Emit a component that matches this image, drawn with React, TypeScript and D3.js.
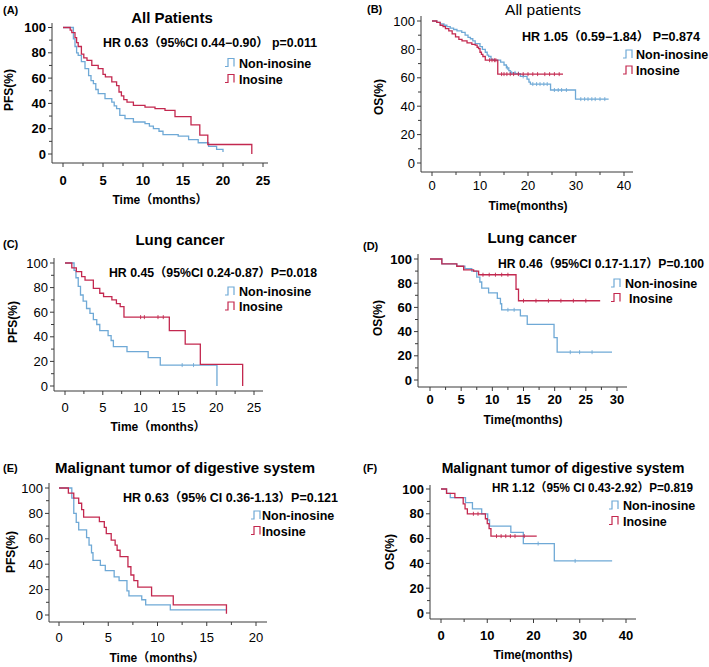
import React from 'react';
import * as d3 from 'd3';

type P = [number, number];

// ---- Data (time in months, survival %) ----
const pfsAllNon: P[] = [[0,100],[1.3,91],[1.5,85],[1.7,80],[1.9,78],[2.3,73],[2.75,67.5],[3.2,62],[3.5,58],[3.8,55.6],[4.1,51],[4.4,47.7],[5.25,43.7],[6.1,41],[6.4,38],[6.7,35.8],[7.1,30.6],[7.75,28],[8.8,25.3],[10.25,24],[10.8,22],[11.3,20],[12.0,18],[12.5,15.3],[14.4,14.2],[15.7,11.3],[16.9,8.9],[18.2,6],[19.2,3.7],[20,1.6]];
const pfsAllIns: P[] = [[0,100],[0.9,98],[1.1,96],[1.5,92],[1.7,88],[1.9,85],[2.3,79],[2.6,76],[3.0,74],[3.6,70],[4.4,67.5],[5.0,63],[5.3,61],[6.1,57],[6.7,54],[7.0,49],[7.3,46],[7.6,43],[8.0,41],[8.8,38.5],[10.25,37],[11.5,35.8],[12.75,34.5],[14.0,29.5],[16.0,23],[17.1,15],[18.1,7.5],[23.6,0]];

const osAllNon: P[] = [[0,100],[1.0,99],[1.7,98],[2.5,97],[3.1,96],[3.8,95],[4.5,94],[5.2,93],[6.2,92],[6.9,90],[7.5,88.5],[8,87.5],[8.5,86],[9,84],[10,82],[10.5,80],[11.1,78],[11.5,76],[11.8,75],[12.3,73],[12.8,72.4],[14.3,71],[15.0,69],[15.5,67],[16,65],[16.3,63.5],[17.4,63],[18.4,61],[19.8,59],[20.2,57],[20.5,55.6],[24.7,51.4],[29.9,45],[36.8,45]];
const osAllIns: P[] = [[0,100],[1.0,99],[1.7,97],[2.3,96],[2.8,94.6],[3.5,93],[4.2,91],[4.9,88.8],[5.6,87],[6.25,86],[7.3,84.6],[8.3,83.6],[9.0,83],[9.4,81.5],[9.7,80.6],[10.0,78],[10.3,76.5],[10.6,75],[11.1,72.4],[13.7,62.6],[27.3,62.6]];
const osAllNonCens = [15.7,16.6,17.3,18,19,21,21.8,22.5,23.3,24,25.5,26.3,27,28,31,31.8,32.5,33.3,34,35,36];
const osAllInsCens = [12,12.5,13,13.3,14.5,15,15.6,16.3,17,18,19,20,21,22,23.5,24.5,25.5,26.5];

const pfsLungNon: P[] = [[0,100],[1.2,94],[1.45,88],[1.75,81],[2.05,74],[2.4,69],[2.85,63],[3.3,59],[3.75,54],[4.2,50],[4.6,45],[5.7,41],[6.1,37],[6.4,32],[8.2,28],[11,23],[12.6,17],[20.1,0]];
const pfsLungIns: P[] = [[0,100],[0.9,96],[1.5,93],[2.2,89],[2.65,86],[3.75,79.4],[4.6,75.4],[5.1,72.6],[6.2,70],[6.8,67],[7.3,64.5],[7.8,56],[13.8,45],[15.9,34],[17.9,17.6],[23.5,0]];
const pfsLungNonCens = [15.5,17];
const pfsLungInsCens = [10,10.5,12.3,13];

const osLungNon: P[] = [[0,100],[1.9,96],[4.3,94],[5.6,92],[6.7,90],[7.5,85],[8.0,81],[8.3,76],[9.4,72],[10.8,67.5],[11.3,63],[11.5,58],[14.5,53],[15.6,46],[19.9,35],[20.4,23],[29.2,23]];
const osLungIns: P[] = [[0,100],[1.9,96],[4.3,94],[5.4,91],[7.0,90],[7.8,87],[13.8,75],[14.2,65.5],[27.3,65.5]];
const osLungNonCens = [12.5,13.5,22.5,24,26];
const osLungInsCens = [8.5,9.5,10.5,11.5,12.5,15,17,19,21,23,25];

const pfsDigNon: P[] = [[0,100],[1.3,92],[1.5,80],[1.75,73],[2.0,67],[2.8,61],[3.05,55],[3.3,49],[3.45,43],[4.2,39],[4.7,35],[5.6,30],[6.1,27],[6.9,19],[7.1,15],[8.4,12],[8.8,8],[11.3,4],[17,4]];
const pfsDigIns: P[] = [[0,100],[0.95,96],[1.5,92],[2.0,88],[2.3,83],[2.5,77],[4.1,73.5],[4.6,69],[4.8,64],[5.3,59],[5.7,55],[5.9,51],[6.2,46],[7.0,38],[7.3,31.5],[7.6,27],[8.0,22],[9.4,15],[11.6,8],[17,1]];

const osDigNon: P[] = [[0,100],[1.2,96.5],[2.0,93],[5.3,89],[6.8,84],[8.8,80],[10.1,75],[10.5,70],[15.1,65],[17.8,56],[24.5,42],[37,42]];
const osDigIns: P[] = [[0,100],[1.2,96.5],[3.0,93],[4.8,88],[5.2,84],[5.7,80],[9.6,76],[10.0,72],[10.4,68],[10.8,62],[20.7,62]];
const osDigNonCens = [21,29];
const osDigInsCens = [7,8,12,13,14,15,16,18];

const yTicks = [0, 20, 40, 60, 80, 100];
const yMinor = [10, 30, 50, 70, 90];
const legendNames = ['Non-inosine', 'Inosine'];

const BLUE = '#6fa9d6';
const RED = '#c3284f';
const FONT = "'Liberation Sans', Arial, 'Noto Sans CJK SC', sans-serif";

interface Panel {
  label: string; labelX: number; labelY: number;
  title: string; titleX: number; titleY: number; titleSize: number; titleWeight: string;
  hr: string; hrX: number; hrY: number; hrW: number;
  legX: number; legTextX: number; legText2X?: number; legY1: number; legY2: number;
  yLabel: string; yLabelX: number; yLabelY: number;
  xLabel: string; xLabelX: number; xLabelY: number;
  yAxisX: number; xAxisY: number; yTop: number; xRight: number;
  x0: number; xMaxPx: number; xMax: number; xStep: number;
  y100: number; y0: number; tickLabelY: number; tickWeight: string;
  non: P[]; ins: P[]; nonC: number[]; insC: number[];
}

const panels: Panel[] = [
  { label: '(A)', labelX: 3, labelY: 14, title: 'All Patients', titleX: 172, titleY: 22.5, titleSize: 15, titleWeight: 'bold',
    hr: 'HR 0.63（95%CI 0.44−0.90） p=0.011', hrX: 103, hrY: 47, hrW: 214,
    legX: 225, legTextX: 239, legY1: 63, legY2: 79,
    yLabel: 'PFS(%)', yLabelX: 13, yLabelY: 90, xLabel: 'Time（months）', xLabelX: 160, xLabelY: 204,
    yAxisX: 52, xAxisY: 163, yTop: 23, xRight: 268, x0: 63, xMaxPx: 263, xMax: 25, xStep: 5,
    y100: 27.5, y0: 154, tickLabelY: 184.5, tickWeight: 'bold',
    non: pfsAllNon, ins: pfsAllIns, nonC: [], insC: [] },
  { label: '(B)', labelX: 367, labelY: 13, title: 'All patients', titleX: 543, titleY: 14.5, titleSize: 15.5, titleWeight: 'normal',
    hr: 'HR 1.05（0.59−1.84） P=0.874', hrX: 522, hrY: 40.5, hrW: 178,
    legX: 623, legTextX: 636, legY1: 54.5, legY2: 70.5,
    yLabel: 'OS(%)', yLabelX: 383, yLabelY: 97, xLabel: 'Time(months)', xLabelX: 528, xLabelY: 210,
    yAxisX: 421, xAxisY: 172, yTop: 16, xRight: 633, x0: 432, xMaxPx: 624, xMax: 40, xStep: 10,
    y100: 21, y0: 163, tickLabelY: 189.5, tickWeight: 'normal',
    non: osAllNon, ins: osAllIns, nonC: osAllNonCens, insC: osAllInsCens },
  { label: '(C)', labelX: 3, labelY: 248, title: 'Lung cancer', titleX: 180, titleY: 245, titleSize: 15, titleWeight: 'bold',
    hr: 'HR 0.45（95%CI  0.24-0.87）P=0.018', hrX: 109, hrY: 276.5, hrW: 208,
    legX: 225, legTextX: 239, legY1: 291.5, legY2: 306.5,
    yLabel: 'PFS(%)', yLabelX: 17, yLabelY: 322, xLabel: 'Time（months）', xLabelX: 158, xLabelY: 431,
    yAxisX: 54, xAxisY: 391, yTop: 258, xRight: 263, x0: 65, xMaxPx: 254, xMax: 25, xStep: 5,
    y100: 263, y0: 386, tickLabelY: 411.5, tickWeight: 'normal',
    non: pfsLungNon, ins: pfsLungIns, nonC: pfsLungNonCens, insC: pfsLungInsCens },
  { label: '(D)', labelX: 363, labelY: 250, title: 'Lung cancer', titleX: 532, titleY: 243, titleSize: 15, titleWeight: 'bold',
    hr: 'HR 0.46（95%CI 0.17-1.17）P=0.100', hrX: 498, hrY: 267.5, hrW: 206,
    legX: 611, legTextX: 625, legText2X: 629, legY1: 283.5, legY2: 298,
    yLabel: 'OS(%)', yLabelX: 382, yLabelY: 318, xLabel: 'Time(months)', xLabelX: 523, xLabelY: 424,
    yAxisX: 418, xAxisY: 387, yTop: 254, xRight: 627, x0: 430, xMaxPx: 617, xMax: 30, xStep: 5,
    y100: 259, y0: 380, tickLabelY: 403.5, tickWeight: 'bold',
    non: osLungNon, ins: osLungIns, nonC: osLungNonCens, insC: osLungInsCens },
  { label: '(E)', labelX: 3, labelY: 472, title: 'Malignant tumor of digestive system', titleX: 185, titleY: 473, titleSize: 15, titleWeight: 'bold',
    hr: 'HR 0.63（95% CI 0.36-1.13）P=0.121', hrX: 123, hrY: 501.5, hrW: 215,
    legX: 251, legTextX: 262, legY1: 515.5, legY2: 531,
    yLabel: 'PFS(%)', yLabelX: 15, yLabelY: 552, xLabel: 'Time（months）', xLabelX: 157, xLabelY: 662,
    yAxisX: 49, xAxisY: 622, yTop: 483, xRight: 267, x0: 59, xMaxPx: 256, xMax: 20, xStep: 5,
    y100: 488, y0: 615, tickLabelY: 642, tickWeight: 'normal',
    non: pfsDigNon, ins: pfsDigIns, nonC: [], insC: [] },
  { label: '(F)', labelX: 363, labelY: 472, title: 'Malignant tumor of digestive system', titleX: 563, titleY: 472.5, titleSize: 14, titleWeight: 'bold',
    hr: 'HR 1.12（95% CI 0.43-2.92）P=0.819', hrX: 492, hrY: 492, hrW: 201,
    legX: 609, legTextX: 623, legY1: 505.5, legY2: 521,
    yLabel: 'OS(%)', yLabelX: 394, yLabelY: 552, xLabel: 'Time(months)', xLabelX: 533, xLabelY: 659,
    yAxisX: 430, xAxisY: 619, yTop: 485, xRight: 636, x0: 441, xMaxPx: 626, xMax: 40, xStep: 10,
    y100: 489, y0: 613, tickLabelY: 639.5, tickWeight: 'bold',
    non: osDigNon, ins: osDigIns, nonC: osDigNonCens, insC: osDigInsCens },
];

function stepValue(pts: P[], t: number): number {
  let v = pts[0][1];
  for (const p of pts) { if (p[0] <= t) v = p[1]; else break; }
  return v;
}

function KMPanel({ p }: { p: Panel }) {
  const x = d3.scaleLinear().domain([0, p.xMax]).range([p.x0, p.xMaxPx]);
  const y = d3.scaleLinear().domain([0, 100]).range([p.y0, p.y100]);
  const line = d3.line<P>().x(d => x(d[0])).y(d => y(d[1])).curve(d3.curveStepAfter);
  const xMajor = d3.range(0, p.xMax + 0.001, p.xStep);
  const xMinor = d3.range(p.xStep / 2, p.xMax, p.xStep);
  const axisColor = '#3a3a3a';
  const sym = (yy: number) => `M${p.legX},${yy + 3.5}h3v-8h6v8`;
  const series = [
    { pts: p.non, cens: p.nonC, color: BLUE },
    { pts: p.ins, cens: p.insC, color: RED },
  ];
  return (
    <g fontFamily={FONT}>
      <text x={p.labelX} y={p.labelY} fontSize={11} fontWeight="bold">{p.label}</text>
      <text x={p.titleX} y={p.titleY} fontSize={p.titleSize} fontWeight={p.titleWeight} textAnchor="middle">{p.title}</text>
      <text x={p.hrX} y={p.hrY} fontSize={12} fontWeight="bold" textLength={p.hrW} lengthAdjust="spacingAndGlyphs">{p.hr}</text>
      <line x1={p.yAxisX} x2={p.yAxisX} y1={p.yTop} y2={p.xAxisY} stroke={axisColor} strokeWidth={1} />
      <line x1={p.yAxisX} x2={p.xRight} y1={p.xAxisY} y2={p.xAxisY} stroke={axisColor} strokeWidth={1} />
      {yTicks.map(v => (
        <g key={'y' + v}>
          <line x1={p.yAxisX - 4} x2={p.yAxisX} y1={y(v)} y2={y(v)} stroke={axisColor} />
          <text x={p.yAxisX - 6} y={y(v)} dy="0.36em" fontSize={13} fontWeight={p.tickWeight} textAnchor="end">{v}</text>
        </g>
      ))}
      {yMinor.map(v => (
        <line key={'ym' + v} x1={p.yAxisX - 3} x2={p.yAxisX} y1={y(v)} y2={y(v)} stroke={axisColor} />
      ))}
      {xMajor.map(v => (
        <g key={'x' + v}>
          <line x1={x(v)} x2={x(v)} y1={p.xAxisY} y2={p.xAxisY + 4} stroke={axisColor} />
          <text x={x(v)} y={p.tickLabelY} fontSize={13} fontWeight={p.tickWeight} textAnchor="middle">{v}</text>
        </g>
      ))}
      {xMinor.map(v => (
        <line key={'xm' + v} x1={x(v)} x2={x(v)} y1={p.xAxisY} y2={p.xAxisY + 3} stroke={axisColor} />
      ))}
      <text transform={`translate(${p.yLabelX},${p.yLabelY}) rotate(-90)`} fontSize={12} fontWeight="bold" textAnchor="middle">{p.yLabel}</text>
      <text x={p.xLabelX} y={p.xLabelY} fontSize={12} fontWeight="bold" textAnchor="middle">{p.xLabel}</text>
      {series.map((s, i) => (
        <g key={'s' + i}>
          <path d={line(s.pts) || ''} fill="none" stroke={s.color} strokeWidth={1.3} />
          {s.cens.map((t, j) => {
            const cy = y(stepValue(s.pts, t));
            return <line key={j} x1={x(t)} x2={x(t)} y1={cy - 2} y2={cy + 2} stroke={s.color} strokeWidth={0.9} />;
          })}
        </g>
      ))}
      <path d={sym(p.legY1)} fill="none" stroke={BLUE} strokeWidth={1.2} />
      <text x={p.legTextX} y={p.legY1 + 4.5} fontSize={12.5} fontWeight="bold">{legendNames[0]}</text>
      <path d={sym(p.legY2)} fill="none" stroke={RED} strokeWidth={1.2} />
      <text x={p.legText2X ?? p.legTextX} y={p.legY2 + 4.5} fontSize={12.5} fontWeight="bold">{legendNames[1]}</text>
    </g>
  );
}

export default function App() {
  return (
    <svg width={709} height={667} viewBox="0 0 709 667"
      style={{ position: 'absolute', left: 0, top: 0, background: '#fff' }}>
      <rect width={709} height={667} fill="#fff" />
      {panels.map((p, i) => <KMPanel key={i} p={p} />)}
    </svg>
  );
}
